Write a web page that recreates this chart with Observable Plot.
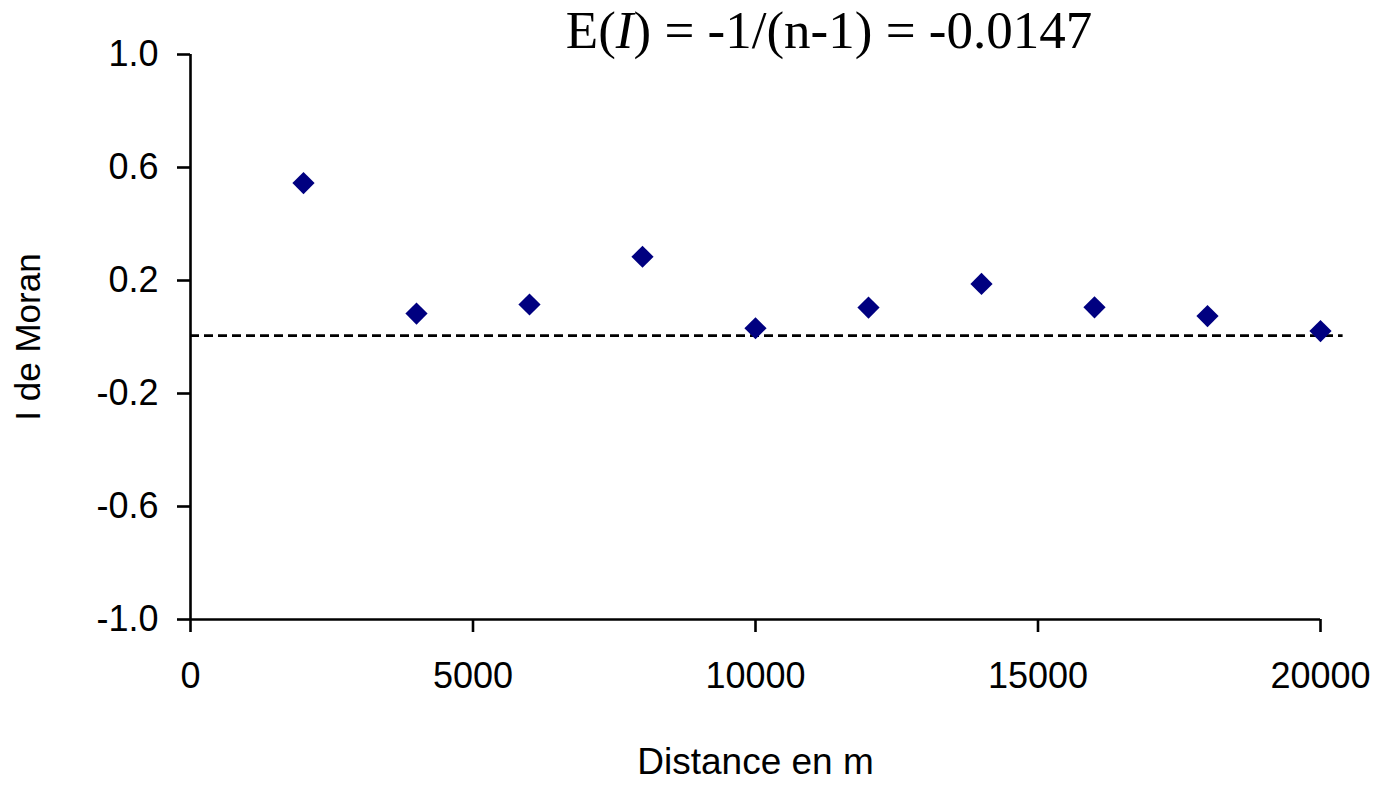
<!DOCTYPE html>
<html>
<head>
<meta charset="utf-8">
<script src="https://cdn.jsdelivr.net/npm/d3@7"></script>
<script src="https://cdn.jsdelivr.net/npm/@observablehq/plot@0.6"></script>
<style>
  html, body { margin: 0; padding: 0; background: #fff; }
  #wrap { position: relative; width: 1378px; height: 787px; }
  #title { position: absolute; left: 0; width: 1658px; top: 0; text-align: center;
           font-family: "Liberation Serif", "Times New Roman", serif; font-size: 53px;
           line-height: 60px; color: #000; white-space: nowrap; }
  #chart { position: absolute; left: 0; top: 0; }
</style>
</head>
<body>
<div id="wrap">
  <div id="chart"></div>
  <div id="title">E(<i>I</i>) = -1/(n-1) = -0.0147</div>
</div>
<script>
// Data
const distances = [2000, 4000, 6000, 8000, 10000, 12000, 14000, 16000, 18000, 20000];
const moranI = [0.545, 0.083, 0.115, 0.284, 0.031, 0.104, 0.188, 0.105, 0.074, 0.021];
const expectedLine = [0.005];        // dashed reference line as drawn
const expectedLineSpan = [0, 20400]; // x extent of dashed line
const xTicks = [0, 5000, 10000, 15000, 20000];
const yTicks = [-1.0, -0.6, -0.2, 0.2, 0.6, 1.0];
const xLabel = ["Distance en m"];
const yLabel = ["I de Moran"];

const points = distances.map((d, i) => ({distance: d, value: moranI[i]}));

const font = '"Liberation Sans", Arial, sans-serif';

const chart = Plot.plot({
  width: 1378,
  height: 787,
  marginLeft: 190,
  marginRight: 58,
  marginTop: 54,
  marginBottom: 168,
  style: {fontFamily: font, fontSize: "36px", color: "#000", background: "#fff", overflow: "visible"},
  x: {domain: [0, 20000]},
  y: {domain: [-1, 1]},
  marks: [
    Plot.ruleY(expectedLine, {y: d => d, x1: expectedLineSpan[0], x2: expectedLineSpan[1], stroke: "#000", strokeWidth: 2.6, strokeDasharray: "9,5"}),
    Plot.ruleX([0], {y1: -1, y2: 1, stroke: "#000", strokeWidth: 2.6}),
    Plot.ruleY([-1], {x1: 0, x2: 20000, stroke: "#000", strokeWidth: 2.6}),
    Plot.axisY({ticks: yTicks, tickFormat: d => d.toFixed(1), tickSize: 13, tickPadding: 19, strokeWidth: 2.6, label: null, fontSize: 36}),
    Plot.axisX({ticks: xTicks, tickFormat: d => String(d), tickSize: 13, tickPadding: 30, strokeWidth: 2.6, label: null, fontSize: 36}),
    Plot.dot(points, {x: "distance", y: "value", symbol: "diamond2", r: 10, fill: "#000080", stroke: "none"}),
    Plot.text(xLabel, {text: d => d, frameAnchor: "bottom", dy: 154, fontSize: 37, fill: "#000"}),
    Plot.text(yLabel, {text: d => d, frameAnchor: "left", textAnchor: "middle", dx: -162, rotate: -90, fontSize: 35, fill: "#000"})
  ]
});
document.getElementById("chart").appendChild(chart);
</script>
</body>
</html>
